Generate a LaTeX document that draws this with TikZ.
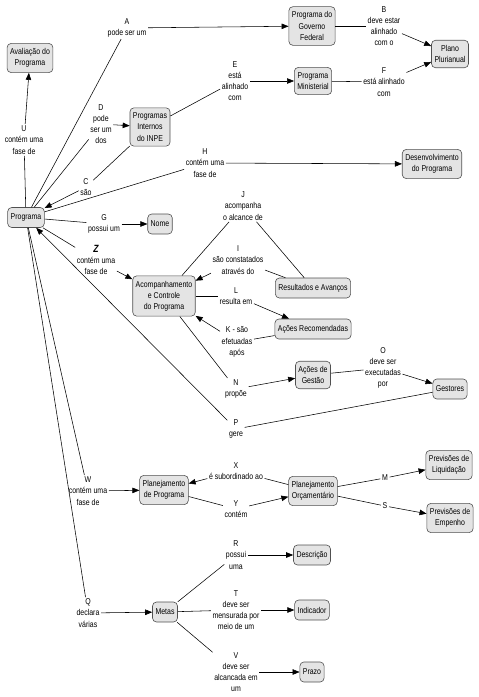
\documentclass[tikz,border=0pt]{standalone}
\usepackage{fontspec}
\setmainfont{Liberation Sans}[FakeStretch=0.82]
\usetikzlibrary{arrows.meta}
\definecolor{CMFill}{HTML}{E4E4E4}
\definecolor{CMLine}{HTML}{505050}

\tikzset{
  concept/.style={draw=CMLine, line width=0.6pt, fill=CMFill, rounded corners=4pt,
    align=center, inner xsep=3pt, inner ysep=5pt, minimum height=20pt,
    font=\fontsize{8.5}{11.2}\selectfont},
  phrase/.style={align=center, inner sep=1.5pt, font=\fontsize{8.5}{11.2}\selectfont},
  link/.style={draw, line width=0.55pt},
  linkto/.style={link, -{Triangle[length=7pt,width=5.5pt]}}
}

\begin{document}
\begin{tikzpicture}[x=1pt,y=-1pt]
\path[use as bounding box] (0,0) rectangle (479,697);
% concepts
\node[concept] (aval) at (30,58) {Avaliação do\\Programa};
\node[concept] (govfed) at (312,26) {Programa do\\Governo\\Federal};
\node[concept] (plano) at (450,54) {Plano\\Plurianual};
\node[concept] (minist) at (313,81) {Programa\\Ministerial};
\node[concept] (internos) at (150,127) {Programas\\Internos\\do INPE};
\node[concept] (desenv) at (432,164) {Desenvolvimento\\do Programa};
\node[concept] (prog) at (26,217.5) {Programa};
\node[concept] (nome) at (160,224) {Nome};
\node[concept] (acomp) at (164,296) {Acompanhamento\\e Controle\\do Programa};
\node[concept] (result) at (313,288) {Resultados e Avanços};
\node[concept] (acoesrec) at (313,329) {Ações Recomendadas};
\node[concept] (acoesgest) at (313,375) {Ações de\\Gestão};
\node[concept] (gestores) at (450,389) {Gestores};
\node[concept] (planprog) at (164,490) {Planejamento\\de Programa};
\node[concept] (planorc) at (313,491) {Planejamento\\Orçamentário};
\node[concept] (prevliq) at (449,465) {Previsões de\\Liquidação};
\node[concept] (prevemp) at (450,518) {Previsões de\\Empenho};
\node[concept] (metas) at (165,612) {Metas};
\node[concept] (descr) at (312,555) {Descrição};
\node[concept] (indic) at (312,610) {Indicador};
\node[concept] (prazo) at (312,672) {Prazo};
% linking phrases
\node[phrase] (lA) at (127,28) {A\\pode ser um};
\node[phrase] (lB) at (384,26) {B\\deve estar\\alinhado\\com o};
\node[phrase] (lC) at (86,187) {C\\são};
\node[phrase] (lD) at (101,124) {D\\pode\\ser um\\dos};
\node[phrase] (lE) at (235,81) {E\\está\\alinhado\\com};
\node[phrase] (lF) at (384,82) {F\\está alinhado\\com};
\node[phrase] (lG) at (104,224) {G\\possui um};
\node[phrase] (lH) at (205,163) {H\\contém uma\\fase de};
\node[phrase] (lI) at (238,260) {I\\são constatados\\através do};
\node[phrase] (lJ) at (243,206) {J\\acompanha\\o alcance de};
\node[phrase] (lK) at (237,342) {K - são\\efetuadas\\após};
\node[phrase] (lL) at (236,296) {L\\resulta em};
\node[phrase] (lM) at (385,478) {M};
\node[phrase] (lN) at (236,389) {N\\propõe};
\node[phrase] (lO) at (383,368) {O\\deve ser\\executadas\\por};
\node[phrase] (lP) at (236,429) {P\\gere};
\node[phrase] (lQ) at (88,613) {Q\\declara\\várias};
\node[phrase] (lR) at (236,555) {R\\possui\\uma};
\node[phrase] (lS) at (385,506) {S};
\node[phrase] (lT) at (236,610) {T\\deve ser\\mensurada por\\meio de um};
\node[phrase] (lU) at (24,140) {U\\contém uma\\fase de};
\node[phrase] (lV) at (236,672) {V\\deve ser\\alcancada em\\um};
\node[phrase] (lW) at (88,491) {W\\contém uma\\fase de};
\node[phrase] (lX) at (236,471) {X\\é subordinado ao};
\node[phrase] (lY) at (236,509) {Y\\contém};
\node[phrase] (lZ) at (96,260) {{\fontsize{10.5}{11.2}\selectfont\bfseries\itshape Z}\\contém uma\\fase de};
% connections
\draw[link] (prog) -- (lA);  \draw[linkto] (lA) -- (govfed);
\draw[link] (govfed) -- (lB);  \draw[linkto] (lB) -- (plano);
\draw[link] (internos) -- (lC);  \draw[linkto] (lC) -- (prog);
\draw[link] (prog) -- (lD);  \draw[linkto] (lD) -- (internos);
\draw[link] (internos) -- (lE);  \draw[linkto] (lE) -- (minist);
\draw[link] (minist) -- (lF);  \draw[linkto] (lF) -- (plano);
\draw[link] (prog) -- (lG);  \draw[linkto] (lG) -- (nome);
\draw[link] (prog) -- (lH);  \draw[linkto] (lH) -- (desenv);
\draw[link] (result) -- (lI);  \draw[linkto] (lI) -- (acomp);
\draw[link] (acomp) -- (lJ);  \draw[link] (lJ) -- (result);
\draw[link] (acoesrec) -- (lK);  \draw[linkto] (lK) -- (acomp);
\draw[link] (acomp) -- (lL);  \draw[linkto] (lL) -- (acoesrec);
\draw[link] (planorc) -- (lM);  \draw[linkto] (lM) -- (prevliq);
\draw[link] (acomp) -- (lN);  \draw[linkto] (lN) -- (acoesgest);
\draw[link] (acoesgest) -- (lO);  \draw[linkto] (lO) -- (gestores);
\draw[link] (gestores) -- (lP);  \draw[linkto] (lP) -- (prog);
\draw[link] (prog) -- (lQ);  \draw[linkto] (lQ) -- (metas);
\draw[link] (metas) -- (lR);  \draw[linkto] (lR) -- (descr);
\draw[link] (planorc) -- (lS);  \draw[linkto] (lS) -- (prevemp);
\draw[link] (metas) -- (lT);  \draw[linkto] (lT) -- (indic);
\draw[link] (prog) -- (lU);  \draw[linkto] (lU) -- (aval);
\draw[link] (metas) -- (lV);  \draw[linkto] (lV) -- (prazo);
\draw[link] (prog) -- (lW);  \draw[linkto] (lW) -- (planprog);
\draw[link] (planorc) -- (lX);  \draw[linkto] (lX) -- (planprog);
\draw[link] (planprog) -- (lY);  \draw[linkto] (lY) -- (planorc);
\draw[link] (prog) -- (lZ);  \draw[linkto] (lZ) -- (acomp);
\end{tikzpicture}
\end{document}
